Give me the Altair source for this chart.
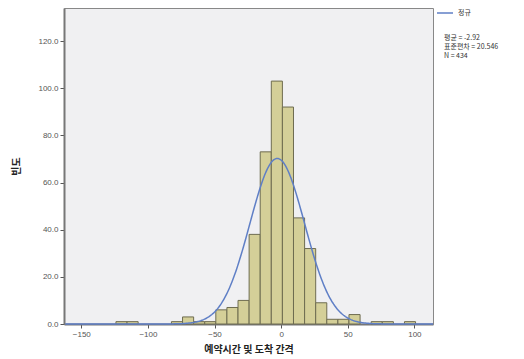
import altair as alt
import pandas as pd
import numpy as np

# Histogram bins
bin_first_start = -124.0
bin_width = 8.33
counts = [1, 1, 0, 0, 0, 1, 3, 1, 1, 6, 7, 10, 38, 73, 103, 92, 45, 32, 9, 2, 2, 4, 0, 1, 1, 0, 1]

# Normal-curve statistics shown in the legend
mean = -2.92
std = 20.546
n = 434

x_ticks = [-150, -100, -50, 0, 50, 100]
y_ticks = [0, 20, 40, 60, 80, 100, 120]

starts = [bin_first_start + i * bin_width for i in range(len(counts))]
bars = pd.DataFrame({
    "lo": starts,
    "hi": [s + bin_width for s in starts],
    "count": counts,
})
bars = bars[bars["count"] > 0]

xs = np.linspace(-162, 114, 400)
curve = pd.DataFrame({
    "x": xs,
    "y": n * bin_width / (std * np.sqrt(2 * np.pi)) * np.exp(-0.5 * ((xs - mean) / std) ** 2),
})

FONT = "Noto Sans CJK KR"
xscale = alt.Scale(domain=[-163, 114], nice=False, zero=False)
yscale = alt.Scale(domain=[0, 134], nice=False)

xaxis = alt.Axis(values=x_ticks, title="예약시간 및 도착 간격", grid=False,
                 labelFontSize=8, labelColor="#555555", tickColor="#555555",
                 tickSize=4, domainColor="#777777", domainWidth=2,
                 titleFontSize=10, titleFont=FONT, titleColor="#222222",
                 titleFontWeight="bold", titlePadding=6, labelPadding=2)
yaxis = alt.Axis(values=y_ticks, format=".1f", title="빈도", grid=False,
                 labelFontSize=8, labelColor="#555555", tickColor="#555555",
                 tickSize=4, domainColor="#777777", domainWidth=2,
                 titleFontSize=10, titleFont=FONT, titleColor="#222222",
                 titleFontWeight="bold", titlePadding=16, labelPadding=2)

rects = alt.Chart(bars).mark_rect(fill="#d4cf98", stroke="#6e6c50", strokeWidth=1).encode(
    x=alt.X("lo:Q", scale=xscale, axis=xaxis),
    x2="hi:Q",
    y=alt.Y("count:Q", scale=yscale, axis=yaxis),
    y2=alt.datum(0),
)

line = alt.Chart(curve).mark_line(color="#5f7fc6", strokeWidth=1.5).encode(
    x=alt.X("x:Q", scale=xscale),
    y=alt.Y("y:Q", scale=yscale),
)

one = pd.DataFrame({"k": [0]})
legend_line = alt.Chart(one).mark_rule(color="#5f7fc6", strokeWidth=1.5).encode(
    x=alt.value(373), x2=alt.value(389), y=alt.value(5)
)

def label(txt, x, y):
    return alt.Chart(one).mark_text(
        align="left", baseline="middle", fontSize=7, font=FONT, color="#333333", text=txt
    ).encode(x=alt.value(x), y=alt.value(y))

stats = [f"평균 = {mean}", f"표준편차 = {std}", f"N = {n}"]
layers = [rects, line, legend_line, label("정규", 394, 5)]
for i, s in enumerate(stats):
    layers.append(label(s, 380, 30 + 9 * i))

chart = alt.layer(*layers).properties(
    width=369, height=316,
    autosize=alt.AutoSizeParams(type="none"),
    padding={"left": 56, "top": 0, "right": 83, "bottom": 33},
).configure_view(
    fill="#f0f0f2", stroke="#888888", strokeWidth=1
).configure_axis(labelFont="Liberation Sans")

chart.save("out.html", embed_options={"renderer": "svg", "actions": False})
